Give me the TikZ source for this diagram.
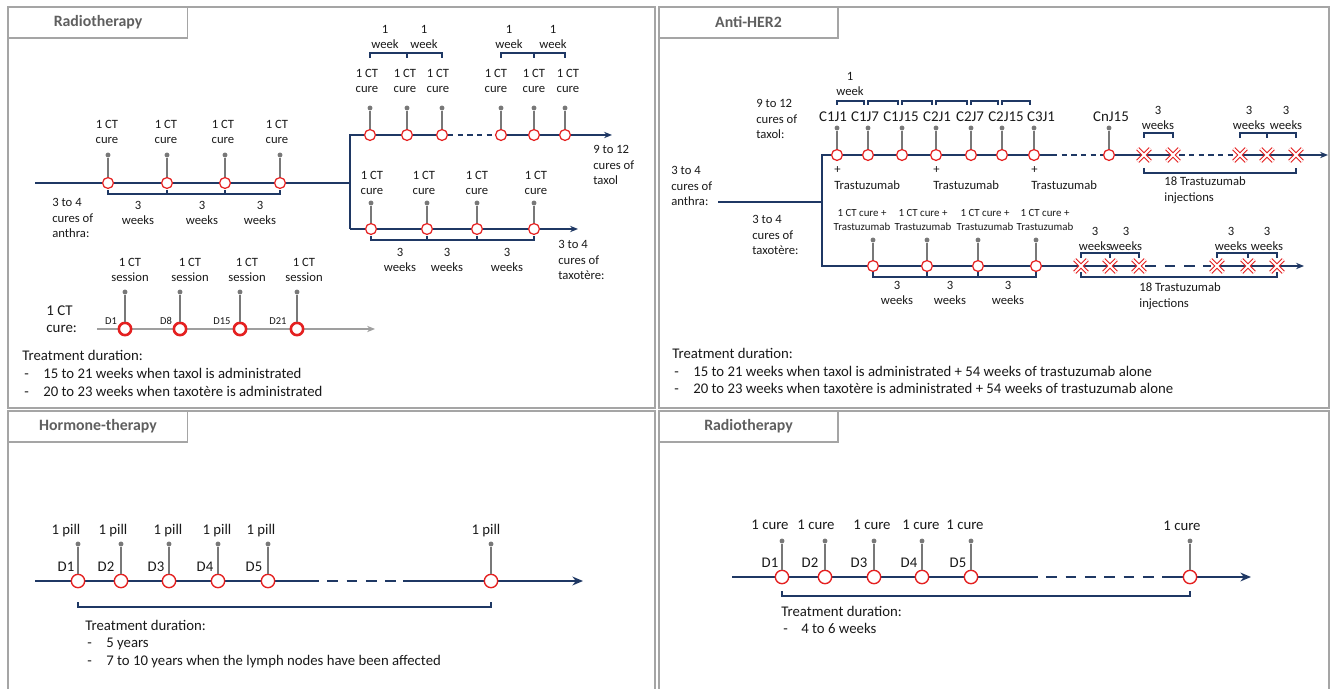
\documentclass[tikz,border=0pt]{standalone}
\usepackage{fontspec}
\setmainfont{Carlito}
\usepackage{tikz}
\usetikzlibrary{arrows.meta, calc, shapes.misc}
\definecolor{mynavy}{RGB}{31,56,100}
\definecolor{myred}{RGB}{228,32,32}
\definecolor{stemgray}{RGB}{120,120,120}
\definecolor{framegray}{RGB}{165,165,165}
\definecolor{titlegray}{RGB}{95,95,95}
\definecolor{mytext}{RGB}{25,25,25}
\pgfdeclarelayer{bg}
\pgfsetlayers{bg,main}
\tikzset{
  frame/.style={draw=framegray, line width=1pt},
  tab/.style={rectangle, draw=framegray, fill=white, line width=0.8pt,
    minimum width=102pt, minimum height=17.6pt,
    font=\bfseries\fontsize{9}{11}\selectfont, text=titlegray},
  evt/.style={circle, draw=myred, fill=white, line width=0.7pt,
    minimum size=6.2pt, inner sep=0pt},
  bigevt/.style={evt, minimum size=7.6pt, line width=0.8pt},
  sess/.style={evt, minimum size=7pt, line width=1.5pt},
  inj/.style={cross out, draw=myred, line width=0.65pt, double=white,
    double distance=1.1pt, minimum size=6.6pt, inner sep=0pt},
  pin/.style={circle, fill=stemgray, inner sep=0pt, minimum size=2.8pt},
  stem/.style={draw=stemgray, line width=0.6pt},
  tline/.style={draw=mynavy, line width=0.75pt},
  gline/.style={draw=gray!75, line width=0.6pt},
  thickline/.style={draw=mynavy, line width=1.3pt},
  thindash/.style={dash pattern=on 3pt off 2.5pt},
  thickdash/.style={dash pattern=on 6pt off 5pt},
  brk/.style={draw=mynavy, line width=0.6pt},
  arrow/.style={-{Stealth[length=4.5pt, width=3.6pt]}},
  bigarrow/.style={-{Stealth[length=6pt, width=5pt]}},
  lbl/.style={font=\fontsize{7.2}{9}\selectfont, align=center, inner sep=0pt, text=mytext},
  tlbl/.style={lbl, font=\fontsize{6.2}{8}\selectfont},
  clbl/.style={font=\fontsize{8.5}{10}\selectfont, inner sep=0pt, text=mytext,
    text height=6pt, text depth=1.8pt},
  dlbl/.style={clbl, font=\fontsize{6}{7}\selectfont, text height=4.3pt, text depth=0pt},
  note/.style={font=\fontsize{8.4}{10}\selectfont, inner sep=0pt, text=mytext,
    text height=6pt, text depth=1.8pt, anchor=west},
  bignote/.style={font=\fontsize{8.4}{10}\selectfont, inner sep=0pt, text=mytext,
    align=left, anchor=west}
}

\begin{document}
\begin{tikzpicture}[x=0.02cm, y=-0.02cm]
  \useasboundingbox (0,0) rectangle (1330,689);

  % Panels and their tabs
  \draw[frame] (8,7) rectangle (655,408);
  \draw[frame] (659,7) rectangle (1329,408);
  \draw[frame] (8,411) rectangle (655,690);
  \draw[frame] (659,411) rectangle (1329,690);
  \node[tab] (tabchemo) at (98,22.5) {Radiotherapy};
  \node[tab] (tabher) at (748.5,22.5) {Anti-HER2};
  \node[tab] (tabhorm) at (98,426.5) {Hormone-therapy};
  \node[tab] (tabradio) at (748.5,426.5) {Radiotherapy};

  %%% Top left: chemotherapy
  % 3 to 4 cures of anthra
  \coordinate (as) at (35,183);
  \coordinate (ab) at (350,183);
  \foreach \x/\lx [count=\i] in {108/107,167/166,225/223,280/277}{
    \node[evt] (a\i) at (\x,183) {};
    \node[pin] (ap\i) at (\x,155) {};
    \draw[stem] (a\i) -- (ap\i);
    \node[lbl] (al\i) at (\lx,132) {1 CT\\cure};
  }
  \foreach \i/\j/\lx in {1/2/138,2/3/202,3/4/260}{
    \draw[brk] ($(a\i)+(0,7)$) -- ++(0,4) -| ($(a\j)+(0,7)$);
    \node[lbl] (aw\i) at (\lx,213) {3\\weeks};
  }
  \node[lbl, anchor=west, align=left] (anthra) at (52,218) {3 to 4\\cures of\\anthra:};

  % 9 to 12 cures of taxol
  \coordinate (b0) at (350,135);
  \coordinate (be) at (612,135);
  \foreach \x/\lx [count=\i] in {370/367,407/405,442/438,501/496,534/534,565/568}{
    \node[evt] (b\i) at (\x,135) {};
    \node[pin] (bp\i) at (\x,108) {};
    \draw[stem] (b\i) -- (bp\i);
    \node[lbl] (bl\i) at (\lx,81) {1 CT\\cure};
  }
  \foreach \i/\j/\lx in {1/2/385,2/3/424,4/5/509,5/6/553}{
    \draw[brk] ($(b\i)+(0,-77)$) -- ++(0,-5) -| ($(b\j)+(0,-77)$);
    \node[lbl] (bw\i) at (\lx,37) {1\\week};
  }
  \node[lbl, anchor=west, align=left] (taxol) at (593,165) {9 to 12\\cures of\\taxol};

  % 3 to 4 cures of taxotere
  \coordinate (c0) at (350,229);
  \coordinate (ce) at (578,229);
  \foreach \x/\lx [count=\i] in {371/372,427/424,477/477,534/536}{
    \node[evt] (c\i) at (\x,229) {};
    \node[pin] (cp\i) at (\x,203) {};
    \draw[stem] (c\i) -- (cp\i);
    \node[lbl] (cl\i) at (\lx,183) {1 CT\\cure};
  }
  \foreach \i/\j/\lx in {1/2/400,2/3/447,3/4/507}{
    \draw[brk] ($(c\i)+(0,7)$) -- ++(0,4) -| ($(c\j)+(0,7)$);
    \node[lbl] (cw\i) at (\lx,260) {3\\weeks};
  }
  \node[lbl, anchor=west, align=left] (taxotere) at (558,260) {3 to 4\\cures of\\taxotère:};

  % one CT cure
  \coordinate (ss) at (97,329);
  \coordinate (se) at (375,329);
  \foreach \x/\lx/\dx/\d [count=\i] in {125/130/111/D1,180/190/166/D8,240/247/222/D15,297/304/278/D21}{
    \node[sess] (s\i) at (\x,329) {};
    \node[pin] (sp\i) at (\x,292) {};
    \draw[stem] (s\i) -- (sp\i);
    \node[lbl] (sl\i) at (\lx,270) {1 CT\\session};
    \node[dlbl] (sd\i) at (\dx,321) {\d};
  }
  \node[bignote, font=\fontsize{8.5}{10}\selectfont] (onecure) at (46,319) {1 CT\\cure:};

  \node[note] (tdchemo) at (22,357) {Treatment duration:};
  \node[note] (mc1) at (24,375) {-};
  \node[note] (tc1) at (43,375) {15 to 21 weeks when taxol is administrated};
  \node[note] (mc2) at (24,393) {-};
  \node[note] (tc2) at (43,393) {20 to 23 weeks when taxotère is administrated};

  %%% Top right: anti-HER2
  \coordinate (hs) at (718,202);
  \coordinate (hj) at (822,202);
  \coordinate (hb) at (822,155);
  \coordinate (tb) at (822,266);
  \coordinate (hd) at (1052,155);
  \coordinate (he) at (1328,155);
  \coordinate (te) at (1304,266);
  \node[lbl, anchor=west, align=left] (hanthra) at (671,186) {3 to 4\\cures of\\anthra:};
  \node[lbl, anchor=west, align=left] (htaxol) at (756,119) {9 to 12\\cures of\\taxol:};
  \node[lbl, anchor=west, align=left] (htaxotere) at (752,235) {3 to 4\\cures of\\taxotère:};

  % taxol + trastuzumab
  \foreach \x/\lx/\t [count=\i] in {837/833/C1J1,868/865/C1J7,902/901/C1J15,936/937/C2J1,971/970/C2J7,1002/1006/C2J15,1034/1041/C3J1,1109/1111/CnJ15}{
    \node[evt] (h\i) at (\x,155) {};
    \node[pin] (hp\i) at (\x,128) {};
    \draw[stem] (h\i) -- (hp\i);
    \node[clbl] (hl\i) at (\lx,118) {\t};
  }
  \foreach \i/\j in {1/2,2/3,3/4,4/5,5/6,6/7}{
    \draw[brk] ($(h\i)+(0,-50)$) -- ++(0,-4) -| ($(h\j)+(-4,-50)$);
  }
  \node[lbl] (hw1) at (850,84) {1\\week};
  \foreach \i in {1,4,7}{
    \node[lbl, anchor=west, align=left] (hn\i) at ($(h\i)+(-3,23)$) {+\\Trastuzumab};
  }
  \foreach \x [count=\i] in {1144,1173,1240,1267,1296}{
    \node[inj] (x\i) at (\x,155) {};
  }
  \foreach \i/\j/\lx in {1/2/1158,3/4/1249,4/5/1286}{
    \draw[brk] ($(x\i)+(0,-17)$) -- ++(0,-5) -| ($(x\j)+(0,-17)$);
    \node[lbl] (xw\i) at (\lx,118) {3\\weeks};
  }
  \draw[brk] ($(x1)+(0,13)$) -- ++(0,5) -| ($(x5)+(0,13)$);
  \node[lbl, anchor=west, align=left] (xinj) at (1164,190) {18 Trastuzumab\\injections};

  % taxotere + trastuzumab
  \foreach \x/\lx [count=\i] in {873/862,927/923,978/985,1036/1045}{
    \node[evt] (t\i) at (\x,266) {};
    \node[pin] (tp\i) at (\x,240) {};
    \draw[stem] (t\i) -- (tp\i);
    \node[tlbl] (tl\i) at (\lx,220) {1 CT cure +\\Trastuzumab};
  }
  \foreach \i/\j/\lx in {1/2/897,2/3/950,3/4/1008}{
    \draw[brk] ($(t\i)+(0,6)$) -- ++(0,5) -| ($(t\j)+(0,6)$);
    \node[lbl] (tw\i) at (\lx,293) {3\\weeks};
  }
  \foreach \x [count=\i] in {1081,1110,1139,1217,1248,1277}{
    \node[inj] (y\i) at (\x,266) {};
  }
  \foreach \i/\j/\lx in {1/2/1095,2/3/1126,4/5/1231,5/6/1267}{
    \draw[brk] ($(y\i)+(0,-8)$) -- ++(0,-5) -| ($(y\j)+(0,-8)$);
    \node[lbl] (yw\i) at (\lx,239) {3\\weeks};
  }
  \draw[brk] ($(y1)+(0,6)$) -- ++(0,5) -| ($(y6)+(0,6)$);
  \node[lbl, anchor=west, align=left] (yinj) at (1139,296) {18 Trastuzumab\\injections};

  \node[note] (tdher) at (672,355) {Treatment duration:};
  \node[note] (mh1) at (674,373) {-};
  \node[note] (th1) at (693,373) {15 to 21 weeks when taxol is administrated + 54 weeks of trastuzumab alone};
  \node[note] (mh2) at (674,390) {-};
  \node[note] (th2) at (693,390) {20 to 23 weeks when taxotère is administrated + 54 weeks of trastuzumab alone};

  %%% Bottom left: hormone-therapy
  \coordinate (ps) at (35,581);
  \coordinate (pd1) at (308,581);
  \coordinate (pd2) at (403,581);
  \coordinate (pe) at (583,581);
  \foreach \x/\lx/\dx/\d [count=\i] in {78/66/66/D1,121/113/106/D2,169/168/156/D3,218/217/205/D4,268/261/254/D5}{
    \node[bigevt] (p\i) at (\x,581) {};
    \node[pin] (pp\i) at (\x,544) {};
    \draw[stem] (p\i) -- (pp\i);
    \node[note, anchor=center] (pl\i) at (\lx,531) {1 pill};
    \node[note, anchor=center] (pdl\i) at (\dx,568) {\d};
  }
  \node[bigevt] (p6) at (491,581) {};
  \node[pin] (pp6) at (491,544) {};
  \draw[stem] (p6) -- (pp6);
  \node[note, anchor=center] (pl6) at (486,531) {1 pill};
  \draw[brk] ($(p1)+(0,21)$) -- ++(0,5) -| ($(p6)+(0,21)$);
  \node[note] (tdhorm) at (85,627) {Treatment duration:};
  \node[note] (mp1) at (87,644) {-};
  \node[note] (tp1) at (106,644) {5 years};
  \node[note] (mp2) at (87,662) {-};
  \node[note] (tp2) at (106,662) {7 to 10 years when the lymph nodes have been affected};

  %%% Bottom right: radiotherapy
  \coordinate (rs) at (732,577);
  \coordinate (rd1) at (1027,577);
  \coordinate (rd2) at (1163,577);
  \coordinate (re) at (1251,577);
  \foreach \x/\lx/\dx/\d [count=\i] in {782/770/770/D1,825/816/810/D2,874/872/859/D3,922/921/909/D4,971/965/958/D5}{
    \node[bigevt] (r\i) at (\x,577) {};
    \node[pin] (rp\i) at (\x,541) {};
    \draw[stem] (r\i) -- (rp\i);
    \node[note, anchor=center] (rl\i) at (\lx,526) {1 cure};
    \node[note, anchor=center] (rdl\i) at (\dx,564) {\d};
  }
  \node[bigevt] (r6) at (1190,577) {};
  \node[pin] (rp6) at (1190,541) {};
  \draw[stem] (r6) -- (rp6);
  \node[note, anchor=center] (rl6) at (1182,527) {1 cure};
  \draw[brk] ($(r1)+(0,14)$) -- ++(0,5) -| ($(r6)+(0,14)$);
  \node[note] (tdradio) at (781,613) {Treatment duration:};
  \node[note] (mr1) at (783,630) {-};
  \node[note] (tr1) at (801,630) {4 to 6 weeks};

  %%% Timelines behind the events
  \begin{pgfonlayer}{bg}
    \draw[tline] (as) -- (ab);
    \draw[tline] (b3.center) -- (b0) -- (c0);
    \draw[tline, arrow] (c0) -- (ce);
    \draw[tline, thindash] (b3) -- (b4);
    \draw[tline, arrow] (b4.center) -- (be);
    \draw[gline, arrow] (ss) -- (se);

    \draw[tline] (hs) -- (hj);
    \draw[tline] (hd) -- (hb) -- (tb) -- (y3.center);
    \draw[tline, thindash] (hd) -- (h8);
    \draw[tline] (h8.center) -- (x2.center);
    \draw[tline, thindash] (x2) -- (x3);
    \draw[tline, arrow] (x3.center) -- (he);
    \draw[thickline, thickdash] (y3) -- (y4);
    \draw[thickline, arrow] (y4.center) -- (te);

    \draw[thickline] (ps) -- (pd1);
    \draw[thickline, thickdash] (pd1) -- (pd2);
    \draw[thickline, bigarrow] (pd2) -- (pe);

    \draw[thickline] (rs) -- (rd1);
    \draw[thickline, thickdash] (rd1) -- (rd2);
    \draw[thickline, bigarrow] (rd2) -- (re);
  \end{pgfonlayer}
\end{tikzpicture}
\end{document}
